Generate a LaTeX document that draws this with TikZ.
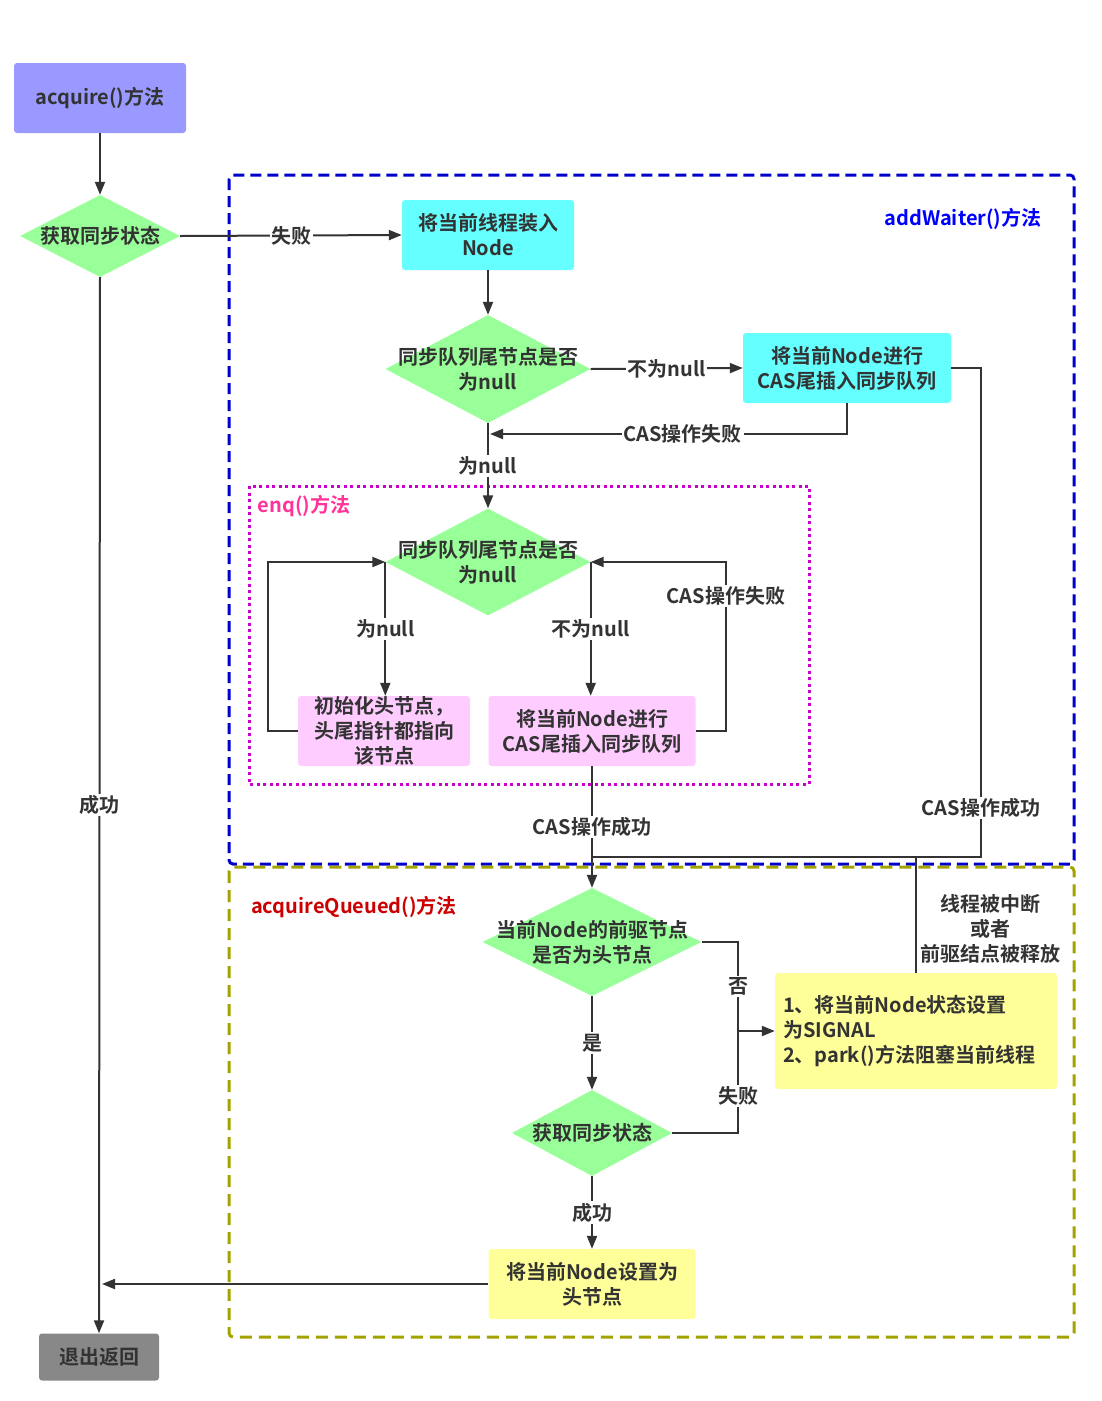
\documentclass[tikz,border=0pt]{standalone}
\usepackage{fontspec}
\setmainfont{Noto Sans CJK SC}[BoldFont=* Bold]
\usetikzlibrary{shapes.geometric,arrows.meta}

\definecolor{ink}{HTML}{333333}
\definecolor{acqblue}{HTML}{9999FF}
\definecolor{nodecyan}{HTML}{66FFFF}
\definecolor{enqpink}{HTML}{FFCCFF}
\definecolor{queyellow}{HTML}{FFFF99}
\definecolor{exitgray}{HTML}{888888}
\definecolor{decgreen}{HTML}{99FF99}
\definecolor{waitblue}{HTML}{0000CC}
\definecolor{enqmag}{HTML}{CC00CC}
\definecolor{queolive}{HTML}{A3A300}

\tikzset{
  bigfont/.style={font=\bfseries\fontsize{20}{25}\selectfont, text=ink},
  box/.style={rectangle, rounded corners=3pt, align=center, inner sep=0pt, bigfont},
  decide/.style 2 args={diamond, fill=decgreen, minimum width=#1, minimum height=#2, inner sep=0pt},
  dtext/.style={align=center, inner sep=0pt, bigfont},
  elbl/.style={fill=white, inner sep=1.5pt, bigfont},
  flow/.style={draw=ink, line width=2pt, -{Triangle[length=13pt,width=10pt]}},
  link/.style={draw=ink, line width=2pt},
}

\begin{document}
\begin{tikzpicture}[x=1pt,y=-1pt]
\useasboundingbox (0,0) rectangle (1102,1401);

% method frames
\draw[waitblue, line width=3pt, dash pattern=on 11pt off 6pt, rounded corners=4pt] (229,175) rectangle (1074,864);
\draw[queolive, line width=3pt, dash pattern=on 12pt off 7pt, rounded corners=4pt] (229,867) rectangle (1074,1337);
\draw[enqmag, line width=3pt, dash pattern=on 3pt off 3.5pt] (249,486) rectangle (809,784);
\node[bigfont, text=blue] (twait) at (963,219) {addWaiter()方法};
\node[bigfont, text={rgb,255:red,255;green,51;blue,153}] (tenq) at (304,506) {enq()方法};
\node[bigfont, text={rgb,255:red,204;green,0;blue,0}] (tque) at (354,907) {acquireQueued()方法};

% acquire
\node[box, fill=acqblue, minimum width=172pt, minimum height=70pt] (b1) at (100,98) {acquire()方法};
\node[decide={160pt}{82pt}] (q0) at (100,236) {};
\node[dtext] (q0t) at (q0) {获取同步状态};

% addWaiter
\node[box, fill=nodecyan, minimum width=172pt, minimum height=70pt] (b2) at (488,235) {将当前线程装入\\Node};
\node[decide={205pt}{108pt}] (q1) at (488,369) {};
\node[dtext] (q1t) at (q1) {同步队列尾节点是否\\为null};
\node[box, fill=nodecyan, minimum width=208pt, minimum height=70pt] (b3) at (847,368) {将当前Node进行\\CAS尾插入同步队列};

% enq
\node[decide={205pt}{107pt}] (q2) at (488,562) {};
\node[dtext] (q2t) at (q2) {同步队列尾节点是否\\为null};
\node[box, fill=enqpink, minimum width=172pt, minimum height=70pt] (b4) at (384,731) {初始化头节点，\\头尾指针都指向\\该节点};
\node[box, fill=enqpink, minimum width=207pt, minimum height=70pt] (b5) at (592,731) {将当前Node进行\\CAS尾插入同步队列};

% acquireQueued
\node[decide={219pt}{108pt}] (q3) at (592,942) {};
\node[dtext] (q3t) at (q3) {当前Node的前驱节点\\是否为头节点};
\node[box, fill=queyellow, minimum width=282pt, minimum height=116pt, align=left, text width=266pt] (b6) at (916,1031) {1、将当前Node状态设置\\为SIGNAL\\2、park()方法阻塞当前线程};
\node[decide={160pt}{86pt}] (q4) at (592,1133) {};
\node[dtext] (q4t) at (q4) {获取同步状态};
\node[box, fill=queyellow, minimum width=207pt, minimum height=70pt] (b7) at (592,1284) {将当前Node设置为\\头节点};
\node[dtext] (tint) at (990,929) {线程被中断\\或者\\前驱结点被释放};

% exit
\node[box, fill=exitgray, minimum width=120pt, minimum height=47pt] (b8) at (99,1357) {退出返回};

\coordinate (failin) at (490,434);
\coordinate (lloop) at (268,562);
\coordinate (rloop) at (726,562);
\coordinate (rjoin) at (981,857);
\coordinate (mjoin) at (592,857);
\coordinate (fork) at (738,1031);
\coordinate (retpt) at (102,1284);

% connectors
\draw[flow] (b1) -- (q0);
\draw[flow] (q0.east) -- node[elbl] {失败} (b2.west);
\draw[flow] (q0.south) -- node[elbl] {成功} (b8.north);
\draw[flow] (b2) -- (q1);
\draw[flow] (q1.east) -- node[elbl] {不为null} (b3.west);
\draw[flow] (b3.south) |- node[elbl, pos=0.73] {CAS操作失败} (failin);
\draw[flow] (q1.south) -- node[elbl] {为null} (q2.north);
\draw[flow] (q2.west) -- node[elbl] {为null} (q2.west |- b4.north);
\draw[flow] (q2.east) -- node[elbl] {不为null} (q2.east |- b5.north);
\draw[flow] (b4.west) -| (lloop) -- (q2.west);
\draw[flow] (b5.east) -| node[elbl, pos=0.9] {CAS操作失败} (rloop) -- (q2.east);
\draw[link] (b3.east) -| node[elbl, pos=0.95] {CAS操作成功} (rjoin) -- (mjoin);
\draw[flow] (b5.south) -- node[elbl] {CAS操作成功} (q3.north);
\draw[link] (b6.north) -- (b6.north |- mjoin);
\draw[flow] (q3.south) -- node[elbl] {是} (q4.north);
\draw[link] (q3.east) -| node[elbl, pos=0.75] {否} (fork);
\draw[link] (q4.east) -| node[elbl, pos=0.68] {失败} (fork);
\draw[flow] (fork) -- (b6.west);
\draw[flow] (q4.south) -- node[elbl] {成功} (b7.north);
\draw[flow] (b7.west) -- (retpt);

\end{tikzpicture}
\end{document}
